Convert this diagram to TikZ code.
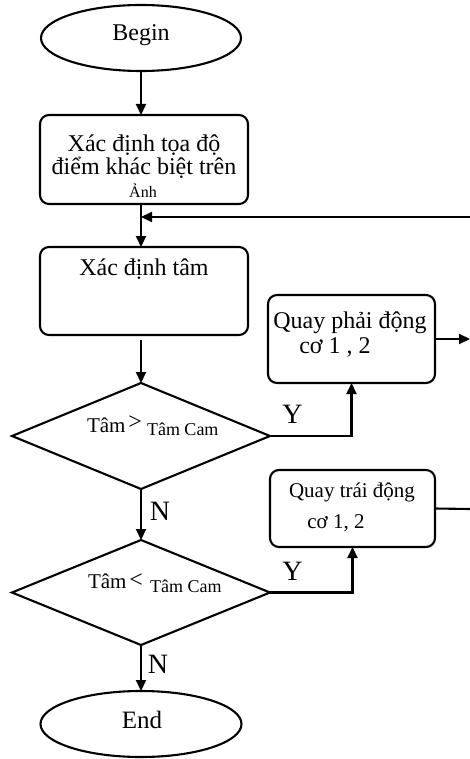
\documentclass[tikz,border=0pt]{standalone}
\usepackage{fontspec}
\setmainfont{Liberation Serif}
\usetikzlibrary{shapes.geometric,arrows.meta}
\begin{document}
\begin{tikzpicture}[x=1pt,y=-1pt,
  every node/.style={inner sep=0pt, outer sep=0pt},
  term/.style={draw, ellipse, line width=2.1pt},
  proc/.style={draw, rectangle, rounded corners=9pt, line width=2.1pt},
  dec/.style={draw, diamond, line width=2.1pt},
  txt/.style={anchor=base, font=\fontsize{24}{28}\selectfont},
  smalltxt/.style={anchor=base, font=\fontsize{21}{24}\selectfont},
  lbl/.style={anchor=base, font=\fontsize{28}{30}\selectfont},
  conn/.style={line width=2.1pt, -{Triangle[length=11pt,width=10pt]}},
  plainline/.style={line width=2.1pt}]
\useasboundingbox (0,0) rectangle (470,759);

% shapes
\node[term, minimum width=200pt, minimum height=66pt] (begin) at (141,38) {};
\node[proc, minimum width=208pt, minimum height=89pt] (b1) at (144,159.5) {};
\node[proc, minimum width=208pt, minimum height=88pt] (b2) at (144,291) {};
\node[dec, minimum width=258pt, minimum height=106pt] (d1) at (141,436) {};
\node[proc, minimum width=167pt, minimum height=88pt] (b3) at (351.5,339) {};
\node[proc, minimum width=165pt, minimum height=77pt] (b4) at (352.5,508.5) {};
\node[dec, minimum width=258pt, minimum height=105pt] (d2) at (141,592.5) {};
\node[term, minimum width=201pt, minimum height=66pt] (end) at (141,724) {};

\coordinate (fb) at (470,217);
\coordinate (o1) at (470,339);
\coordinate (o2) at (470,509);

% texts
\node[txt] (tbegin) at (141,41) {Begin};
\node[txt] (t11) at (144,152) {Xác định tọa độ};
\node[txt] (t12) at (144,175) {điểm khác biệt trên};
\node[anchor=base, font=\fontsize{16}{18}\selectfont] (t13) at (143,197) {Ảnh};
\node[txt] (t2) at (144,275) {Xác định tâm};
\node[txt] (t31) at (350,328) {Quay phải động};
\node[txt] (t32) at (335,353) {cơ 1 , 2};
\node[smalltxt] (t41) at (352,497) {Quay trái động};
\node[smalltxt] (t42) at (336,528) {cơ 1, 2};
\node[anchor=base west] (td1) at (87,432) {\fontsize{21}{23}\selectfont Tâm\hspace{3pt}\fontsize{24}{26}\selectfont\raisebox{3pt}{>}\hspace{5pt}\fontsize{18}{20}\selectfont\raisebox{-3pt}{Tâm Cam}};
\node[anchor=base west] (td2) at (88,588) {\fontsize{21}{23}\selectfont Tâm\hspace{3pt}\fontsize{24}{26}\selectfont\raisebox{0.5pt}{<}\hspace{7pt}\fontsize{18}{20}\selectfont\raisebox{-4pt}{Tâm Cam}};
\node[lbl] (ly1) at (292.5,423) {Y};
\node[lbl] (ln1) at (160,520) {N};
\node[lbl] (ly2) at (292.5,580) {Y};
\node[lbl] (ln2) at (158,673) {N};
\node[anchor=base, font=\fontsize{25}{28}\selectfont] (tend) at (142,728) {End};

% connectors
\draw[conn] (begin.south) -- (begin.south |- b1.north);
\draw[conn] (b1.south -| begin) -- (b2.north -| begin);
\draw[conn] (fb) -- (fb -| begin);
\draw[conn, shorten <=5pt] (b2.south -| d1) -- (d1.north);
\draw[conn] (d1.east) -| (b3.south);
\draw[conn] (b3.east) -- (o1);
\draw[conn] (d1.south) -- (d2.north);
\draw[conn] (d2.east) -| (b4.south);
\draw[plainline] (b4.east) -- (o2);
\draw[conn] (d2.south) -- (end.north);
\end{tikzpicture}
\end{document}
